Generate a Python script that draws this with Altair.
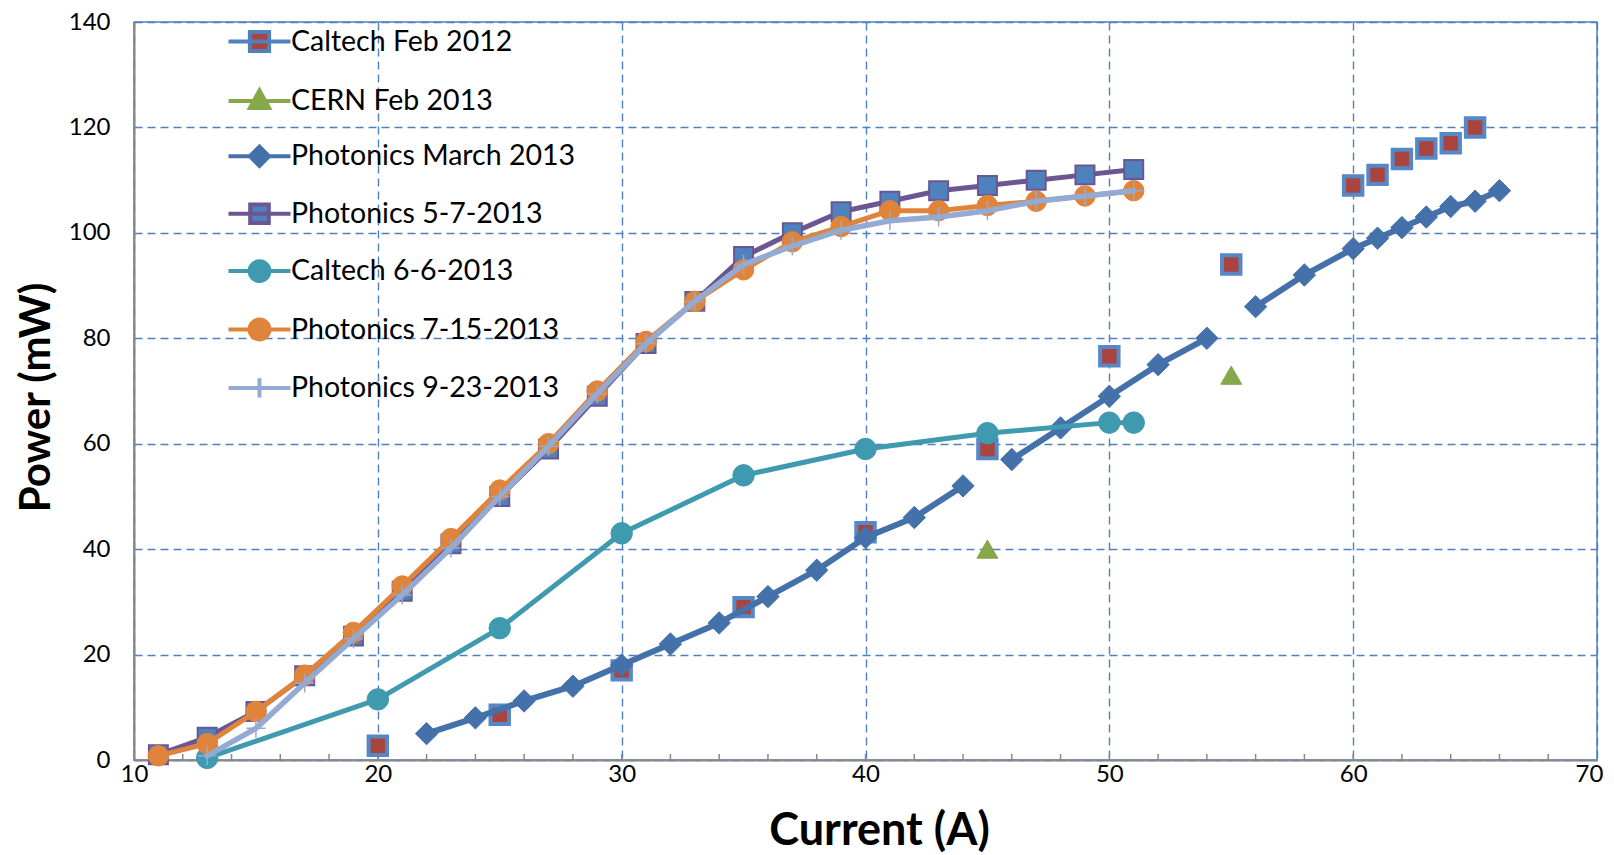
import altair as alt
import pandas as pd

# ---------------- data ----------------
SERIES = ["Caltech Feb 2012", "CERN Feb 2013", "Photonics March 2013",
          "Photonics 5-7-2013", "Caltech 6-6-2013", "Photonics 7-15-2013",
          "Photonics 9-23-2013"]

caltech_feb2012_x = [20, 25, 30, 35, 40, 45, 50, 55, 60, 61, 62, 63, 64, 65]
caltech_feb2012_y = [2.7, 8.6, 17, 29, 43.2, 59, 76.6, 94, 109, 111, 114, 116, 117, 120]

cern_feb2013_x = [45, 55]
cern_feb2013_y = [40, 73]

march2013_x = [22, 24, 26, 28, 30, 32, 34, 36, 38, 40, 42, 44, 45, 46, 48, 50, 52, 54, 55,
               56, 58, 60, 61, 62, 63, 64, 65, 66]
march2013_y = [5, 8, 11.2, 14, 18, 22, 26, 31, 36, 42.2, 46, 52, None, 57, 63, 69, 75, 80, None,
               86, 92, 97, 99, 101, 103, 105, 106, 108]

p0507_x = [11, 13, 15, 17, 19, 21, 23, 25, 27, 29, 31, 33, 35, 37, 39, 41, 43, 45, 47, 49, 51]
p0507_y = [1, 4.3, 9.2, 16, 23.5, 32, 41, 50, 59, 69, 79, 87, 95.5, 100, 104, 106, 108, 109, 110, 111, 112]

c0606_x = [13, 20, 25, 30, 35, 40, 45, 50, 51]
c0606_y = [0.4, 11.5, 25, 43, 54, 59, 62, 64, 64]

p0715_x = [11, 13, 15, 17, 19, 21, 23, 25, 27, 29, 31, 33, 35, 37, 39, 41, 43, 45, 47, 49, 51]
p0715_y = [0.8, 3.1, 9.2, 16.1, 24.2, 33, 42, 51.2, 60, 70, 79.4, 87, 93, 98.3, 101.2, 104.2, 104.2,
           105.2, 106, 107, 108]

p0923_x = [13, 15, 17, 19, 21, 23, 25, 27, 29, 31, 33, 35, 37, 39, 41, 43, 45, 47, 49, 51]
p0923_y = [0.8, 6, 14.6, 23, 31.3, 40.2, 50, 59.5, 69.5, 79, 87, 94, 97.5, 100.5, 102.3, 103, 104.2,
           106, 107, 108]

series_data = [
    (caltech_feb2012_x, caltech_feb2012_y),
    (cern_feb2013_x, cern_feb2013_y),
    (march2013_x, march2013_y),
    (p0507_x, p0507_y),
    (c0606_x, c0606_y),
    (p0715_x, p0715_y),
    (p0923_x, p0923_y),
]

x_ticks = [10, 20, 30, 40, 50, 60, 70]
y_ticks = [0, 20, 40, 60, 80, 100, 120, 140]
minor_ticks = list(range(12, 70, 2))

rows = []
for name, (xs, ys) in zip(SERIES, series_data):
    seg = 0
    for xv, yv in zip(xs, ys):
        if yv is None:
            seg += 1
            continue
        rows.append({"series": name, "current": xv, "power": yv, "seg": seg})
df = pd.DataFrame(rows)

# ---------------- styles ----------------
CROSS = "M-1,0H1M0,-1V1"
styles = {
    "Caltech Feb 2012": dict(line=None, lw=0, shape="square", size=340, fill="#A9443F", stroke="#5688C8", sw=4),
    "CERN Feb 2013": dict(line=None, lw=0, shape="triangle-up", size=440, fill="#87A74B", stroke="#87A74B", sw=1),
    "Photonics March 2013": dict(line="#4471AA", lw=6, shape="diamond", size=500, fill="#4471AA", stroke="#4471AA", sw=1),
    "Photonics 5-7-2013": dict(line="#6C5593", lw=5, shape="square", size=360, fill="#4F81BD", stroke="#6C5593", sw=2),
    "Caltech 6-6-2013": dict(line="#3F9AB0", lw=5, shape="circle", size=460, fill="#3F9AB0", stroke="#3F9AB0", sw=1),
    "Photonics 7-15-2013": dict(line="#E0843B", lw=5, shape="circle", size=420, fill="#E0843B", stroke="#E0843B", sw=1),
    "Photonics 9-23-2013": dict(line="#93ABD3", lw=5.5, shape=CROSS, size=360, fill="transparent", stroke="#93ABD3", sw=1.5),
}

legend_paths = [
    "M-2,0H2M-0.62,-0.62H0.62V0.62H-0.62Z",
    "M-2,0H2M0,-0.68L0.62,0.46H-0.62Z",
    "M-2,0H2M0,-0.62L0.62,0L0,0.62L-0.62,0Z",
    "M-2,0H2M-0.6,-0.6H0.6V0.6H-0.6Z",
    "M-2,0H2M-0.64,0A0.64,0.64 0 1,0 0.64,0A0.64,0.64 0 1,0 -0.64,0Z",
    "M-2,0H2M-0.64,0A0.64,0.64 0 1,0 0.64,0A0.64,0.64 0 1,0 -0.64,0Z",
    "M-2,0H2M0,-0.62V0.62",
]
legend_fill = ["#A9443F", "#87A74B", "#4471AA", "#4F81BD", "#3F9AB0", "#E0843B", "transparent"]
legend_stroke = ["#4F81BD", "#87A74B", "#4471AA", "#6C5593", "#3F9AB0", "#E0843B", "#93ABD3"]

W, H = 1463, 738
FONT = "Lato"

x_enc = alt.X("current:Q",
              scale=alt.Scale(domain=[10, 70], nice=False, zero=False),
              axis=alt.Axis(values=x_ticks, title="Current (A)", grid=True, ticks=False, tickSize=0,
                            labelPadding=2, labelFlush=False, labelBound=False,
                            labelOffset={"condition": {"test": "datum.value == 70", "value": -8},
                                         "value": 0},
                            titleX=745, titleY=84,
                            titleBaseline="alphabetic", titleAlign="center", titleFontSize=45))
y_enc = alt.Y("power:Q",
              scale=alt.Scale(domain=[0, 140], nice=False),
              axis=alt.Axis(values=y_ticks, title="Power (mW)", grid=True, ticks=False,
                            labelPadding=24, labelFlush=False, titleX=-98, titleY=375,
                            titleBaseline="middle", titleAlign="center", titleAngle=-90,
                            titleFontSize=42))

base = alt.Chart(df)
layers = []

tick_df = pd.DataFrame({"current": minor_ticks})
layers.append(alt.Chart(tick_df).mark_rule(color="#888888", strokeWidth=1.5).encode(
    x=x_enc, y=alt.value(H), y2=alt.value(H - 6)))

for name in SERIES:
    st = styles[name]
    sub = base.transform_filter(alt.datum.series == name)
    if st["line"]:
        layers.append(sub.mark_line(color=st["line"], strokeWidth=st["lw"], strokeJoin="round",
                                    strokeCap="round").encode(x=x_enc, y=y_enc, detail="seg:N"))
    layers.append(sub.mark_point(shape=st["shape"], size=st["size"], fill=st["fill"],
                                 stroke=st["stroke"], strokeWidth=st["sw"], opacity=1,
                                 filled=(st["fill"] != "transparent")).encode(x=x_enc, y=y_enc))

leg = alt.Legend(title=None, orient="none", legendX=108, legendY=2, symbolSize=961,
                 symbolStrokeWidth=4, labelFont=FONT, labelFontSize=28.5, labelColor="#000000",
                 labelOffset=14, labelLimit=500, rowPadding=21.4, padding=0, symbolOpacity=1)
layers.append(base.transform_filter("false").mark_point(filled=True, opacity=1).encode(
    x=x_enc, y=y_enc,
    shape=alt.Shape("series:N", scale=alt.Scale(domain=SERIES, range=legend_paths), legend=leg),
    fill=alt.Fill("series:N", scale=alt.Scale(domain=SERIES, range=legend_fill), legend=leg),
    stroke=alt.Stroke("series:N", scale=alt.Scale(domain=SERIES, range=legend_stroke), legend=leg),
))

chart = alt.layer(*layers).properties(
    width=W, height=H,
    autosize=alt.AutoSizeParams(type="none"),
    padding={"left": 126, "top": 14, "right": 8, "bottom": 95},
    background="white",
).configure_view(
    stroke="#4F81BD", strokeWidth=1.5
).configure_axis(
    labelFont=FONT, labelFontSize=24, labelColor="#000000",
    titleFont=FONT, titleFontWeight="bold", titleColor="#000000",
    domainColor="#888888", domainWidth=2,
    gridColor="#4F81BD", gridDash=[8, 5], gridWidth=1.4,
)

chart.save("out.html", embed_options={"renderer": "svg", "actions": False})
